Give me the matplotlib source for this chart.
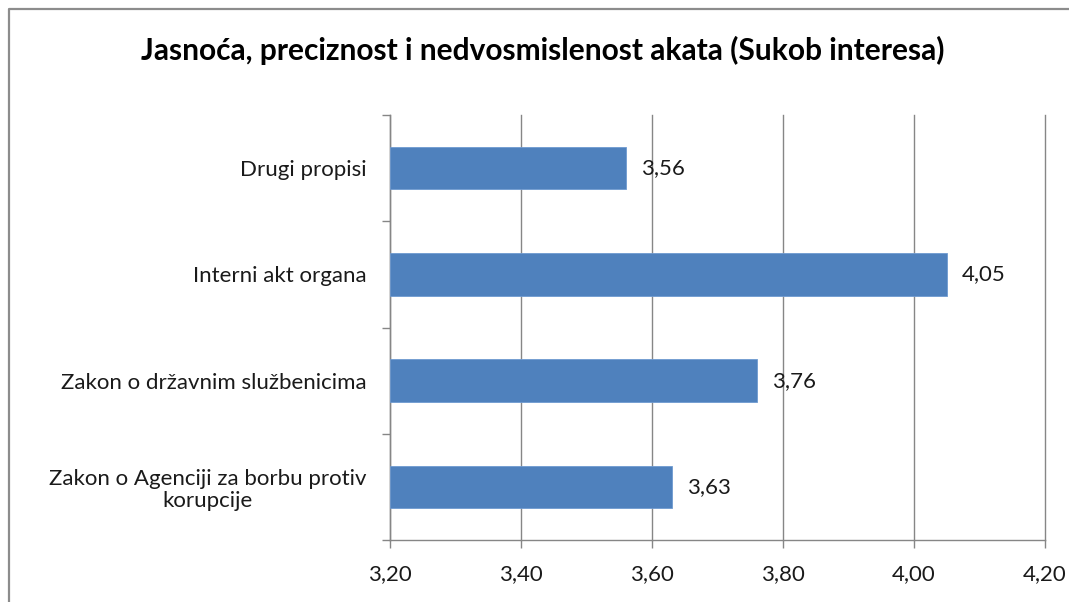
import matplotlib
matplotlib.use("Agg")
import matplotlib.pyplot as plt
from matplotlib.ticker import FixedLocator, FuncFormatter
from matplotlib.lines import Line2D

title = "Jasnoća, preciznost i nedvosmislenost akata (Sukob interesa)"
categories = [
    "Drugi propisi",
    "Interni akt organa",
    "Zakon o državnim službenicima",
    "Zakon o Agenciji za borbu protiv\nkorupcije",
]
values = [3.56, 4.05, 3.76, 3.63]
x_ticks = [3.20, 3.40, 3.60, 3.80, 4.00, 4.20]

FONT = ["Lato", "DejaVu Sans"]
plt.rcParams['font.family'] = FONT

W, H = 1069, 602
fig = plt.figure(figsize=(W / 100, H / 100), dpi=100)
fig.patch.set_facecolor("white")

ax = fig.add_axes([390 / W, 1 - 540 / H, (1045 - 390) / W, (540 - 115) / H])

n = len(categories)
ypos = list(range(n))[::-1]  # first category on top
bar_color = "#4F81BD"
ax.barh(ypos, [v - x_ticks[0] for v in values], left=x_ticks[0], height=0.4,
        color=bar_color, edgecolor="#6F9AD0", linewidth=0.6, zorder=3)

for y, v in zip(ypos, values):
    ax.annotate(f"{v:.2f}".replace(".", ","), xy=(v, y), xytext=(11, 0),
                textcoords="offset points", va="center", ha="left",
                fontsize=16, color="#1a1a1a", zorder=4)

ax.set_xlim(x_ticks[0], x_ticks[-1])
ax.set_ylim(-0.5, n - 0.5)

ax.xaxis.set_major_locator(FixedLocator(x_ticks))
ax.xaxis.set_major_formatter(FuncFormatter(lambda v, p: f"{v:.2f}".replace(".", ",")))
ax.tick_params(axis="x", direction="out", length=6, width=1, color="#868686",
               labelsize=16, labelcolor="#1a1a1a", pad=11)
ax.grid(axis="x", color="#868686", linewidth=1, zorder=0)
ax.grid(axis="y", visible=False)
for gl in ax.get_xgridlines():
    gl.set_clip_on(False)

ax.set_yticks(ypos)
ax.set_yticklabels(categories)
ax.set_yticks([i - 0.5 for i in range(n + 1)], minor=True)
ax.tick_params(axis="y", which="major", length=0, labelsize=16,
               labelcolor="#1a1a1a", pad=17)
ax.tick_params(axis="y", which="minor", length=6, width=1, color="#868686",
               direction="out")
for lbl in ax.get_yticklabels():
    lbl.set_multialignment("center")
    lbl.set_linespacing(1.15)

for side in ["top", "right"]:
    ax.spines[side].set_visible(False)
for side in ["left", "bottom"]:
    ax.spines[side].set_color("#868686")
    ax.spines[side].set_linewidth(1)

fig.text(543 / W, 1 - 50 / H, title, ha="center", va="center",
         fontsize=21.5, fontweight="bold", color="black")

# outer chart frame (cropped on right and bottom)
fl, ft = 9 / W, 1 - 9 / H
fig.add_artist(Line2D([fl, fl, 1.01], [-0.01, ft, ft], transform=fig.transFigure,
                      color="#8c8c8c", linewidth=1.6))

fig.savefig("out.png", dpi=100, facecolor="white")
